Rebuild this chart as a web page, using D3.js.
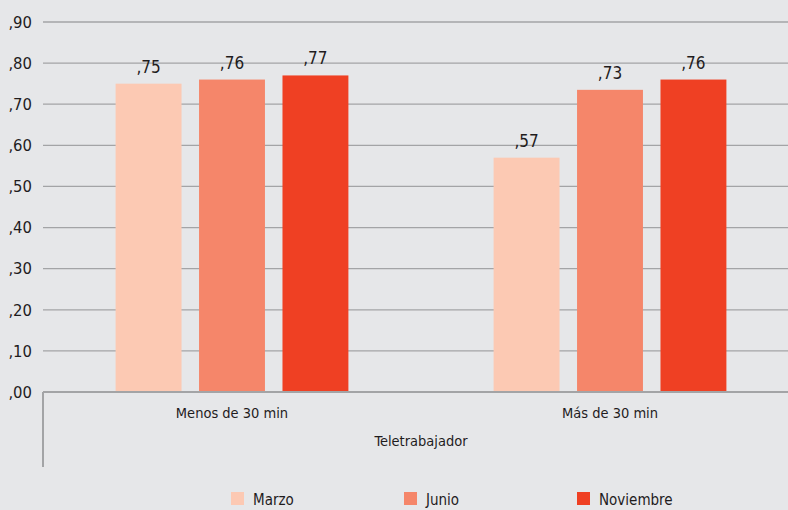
<!DOCTYPE html>
<html>
<head>
<meta charset="utf-8">
<script src="https://cdn.jsdelivr.net/npm/d3@7"></script>
<style>
  body { margin: 0; background: #e6e7e9; }
  svg { display: block; font-family: "Liberation Sans Narrow", "DejaVu Sans Condensed", sans-serif; }
  .grid line { stroke: #a3a4a6; stroke-width: 1.3; }
  text { fill: #1f1c1d; }
</style>
</head>
<body>
<div id="chart"></div>
<script>
// data
var groups = ["Menos de 30 min", "Más de 30 min"];
var series = ["Marzo", "Junio", "Noviembre"];
var colors = ["#fcc9b3", "#f5866a", "#ef4023"];
var marzo = [0.75, 0.57];
var junio = [0.76, 0.735];
var noviembre = [0.77, 0.76];
var yTicks = [0, 0.1, 0.2, 0.3, 0.4, 0.5, 0.6, 0.7, 0.8, 0.9];
var groupTitle = "Teletrabajador";

var values = [marzo, junio, noviembre];

var width = 788, height = 510;
var margin = {top: 22, left: 43, bottom: 118};
var plotBottom = height - margin.bottom;

var svg = d3.select("#chart").append("svg")
    .attr("width", width)
    .attr("height", height);

// scales
var y = d3.scaleLinear().domain([0, 0.9]).range([plotBottom, margin.top]);
var x0 = d3.scaleBand().domain(groups).range([margin.left, 799]).padding(0);
var x1 = d3.scaleBand().domain(series).range([0, x0.bandwidth()])
    .paddingInner(0.21).paddingOuter(0.87);

// number format with comma decimal, no leading zero
var loc = d3.formatLocale({decimal: ",", thousands: ".", grouping: [3], currency: ["", "€"]});
var fmt = function(v) { return loc.format(".2f")(v).replace(/^0/, ""); };

// gridlines
svg.append("g")
    .attr("class", "grid")
    .selectAll("line")
    .data(yTicks.slice(1))
    .enter().append("line")
    .attr("x1", margin.left)
    .attr("x2", width)
    .attr("y1", function(d) { return y(d); })
    .attr("y2", function(d) { return y(d); });

// y labels
svg.append("g")
    .selectAll("text")
    .data(yTicks)
    .enter().append("text")
    .attr("x", 32)
    .attr("y", function(d) { return y(d); })
    .attr("dy", "0.35em")
    .attr("text-anchor", "end")
    .style("font-size", "16.5px")
    .text(fmt);

// bars
var g = svg.append("g")
    .selectAll("g")
    .data(groups)
    .enter().append("g")
    .attr("transform", function(d) { return "translate(" + x0(d) + ",0)"; });

g.selectAll("rect")
    .data(function(d, i) { return series.map(function(s, j) { return {s: s, v: values[j][i], c: colors[j]}; }); })
    .enter().append("rect")
    .attr("x", function(d) { return x1(d.s); })
    .attr("width", x1.bandwidth())
    .attr("y", function(d) { return y(d.v); })
    .attr("height", function(d) { return plotBottom - y(d.v); })
    .attr("fill", function(d) { return d.c; });

g.selectAll("text")
    .data(function(d, i) { return series.map(function(s, j) { return {s: s, v: values[j][i]}; }); })
    .enter().append("text")
    .attr("x", function(d) { return x1(d.s) + x1.bandwidth() / 2; })
    .attr("y", function(d) { return y(d.v) - 11; })
    .attr("text-anchor", "middle")
    .style("font-size", "17px")
    .text(function(d) { return fmt(d.v); });

// x axis baseline and left stub
svg.append("line")
    .attr("x1", margin.left).attr("x2", width)
    .attr("y1", plotBottom).attr("y2", plotBottom)
    .attr("stroke", "#a3a4a6").attr("stroke-width", 2);
svg.append("line")
    .attr("x1", margin.left).attr("x2", margin.left)
    .attr("y1", plotBottom).attr("y2", 467)
    .attr("stroke", "#a3a4a6").attr("stroke-width", 2);

// category labels
svg.append("g")
    .selectAll("text")
    .data(groups)
    .enter().append("text")
    .attr("x", function(d) { return x0(d) + x0.bandwidth() / 2; })
    .attr("y", 418)
    .attr("text-anchor", "middle")
    .style("font-size", "14.5px")
    .text(function(d) { return d; });

svg.append("text")
    .attr("x", (x0.range()[0] + x0.range()[1]) / 2)
    .attr("y", 446)
    .attr("text-anchor", "middle")
    .style("font-size", "14.5px")
    .text(groupTitle);

// legend
var legend = svg.append("g")
    .selectAll("g")
    .data(series)
    .enter().append("g")
    .attr("transform", function(d, i) { return "translate(" + (231 + i * 173) + ",492)"; });

legend.append("rect")
    .attr("width", 13)
    .attr("height", 13)
    .attr("fill", function(d, i) { return colors[i]; });

legend.append("text")
    .attr("x", 22)
    .attr("y", 13)
    .style("font-size", "15px")
    .text(function(d) { return d; });
</script>
</body>
</html>
